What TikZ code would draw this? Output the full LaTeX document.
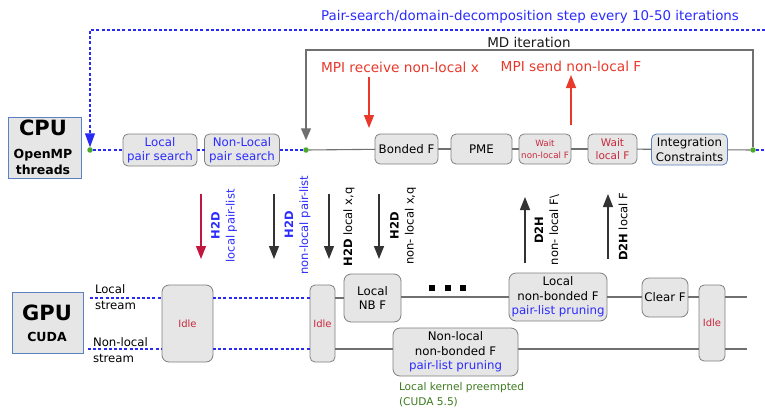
\documentclass[tikz,border=0pt]{standalone}
\usepackage{fontspec}
\setmainfont{DejaVu Sans}
\usetikzlibrary{arrows.meta}
\definecolor{boxfill}{HTML}{E6E6E6}
\definecolor{boxline}{HTML}{7F7F7F}
\definecolor{lnblue}{HTML}{2A2AF5}
\definecolor{txtblue}{HTML}{2B2BFF}
\definecolor{mpired}{HTML}{E8392B}
\definecolor{idlered}{HTML}{C8283C}
\definecolor{crimson}{HTML}{C0163F}
\definecolor{darkarr}{HTML}{333333}
\definecolor{mdgray}{HTML}{707070}
\definecolor{dotgreen}{HTML}{4BAA2A}
\definecolor{txtgreen}{HTML}{3C7A1E}
\definecolor{frameblue}{HTML}{5A82C0}
\begin{document}
\begin{tikzpicture}[x=1pt,y=-1pt,
  every node/.style={inner sep=0pt, outer sep=0pt},
  box/.style={draw=boxline, fill=boxfill, rounded corners=5pt, align=center, line width=0.8pt, font=\fontsize{11.8}{14.5}\selectfont},
  idlebox/.style={box, text=idlered, font=\fontsize{10}{12}\selectfont},
  headbox/.style={draw=frameblue, fill=boxfill, line width=0.9pt},
  gdot/.style={circle, fill=dotgreen, minimum size=5.5pt},
  sq/.style={fill=black, minimum size=5.5pt},
  bluedash/.style={draw=lnblue, line width=1.1pt, dash pattern=on 3pt off 2.2pt},
  gline/.style={draw=mdgray, line width=1.1pt},
  bighead/.style={-{Triangle[length=13pt,width=10pt]}},
  rlab/.style={rotate=90, align=center, font=\fontsize{11.5}{15}\selectfont},
]
\useasboundingbox (0,0) rectangle (765,410);

% ---------- top texts ----------
\node[text=txtblue, font=\fontsize{13.4}{15}\selectfont] (pstxt) at (530,17) {Pair-search/domain-decomposition step every 10-50 iterations};
\node[text=black!90, font=\fontsize{13.5}{15}\selectfont] (mdtxt) at (529,42) {MD iteration};
\node[text=mpired, font=\fontsize{13.7}{15}\selectfont] (mpir) at (400,67) {MPI receive non-local x};
\node[text=mpired, font=\fontsize{13.7}{15}\selectfont] (mpis) at (571,66) {MPI send non-local F};

% ---------- CPU ----------
\node[headbox, minimum width=73pt, minimum height=61pt] (cpu) at (44.5,147.5) {};
\node[font=\fontsize{21}{22}\selectfont\bfseries] (cputxt) at (43,128) {CPU};
\node[font=\fontsize{12.5}{15.5}\selectfont\bfseries, align=center] (omp) at (43,162) {OpenMP\\threads};

\node[gdot] (d1) at (90,150) {};
\node[gdot] (d2) at (306,150) {};
\node[gdot] (d3) at (753,150) {};
\coordinate (cpuend) at (765,150);
\coordinate (tr) at (765,30);
\coordinate (tl) at (90,30);
\coordinate (mdr) at (753,50);
\coordinate (mdl) at (306,50);

\node[box, text=txtblue, minimum width=74pt, minimum height=32pt] (lps) at (160,150) {Local\\pair search};
\node[box, text=txtblue, minimum width=75pt, minimum height=32pt] (nlps) at (242,150) {Non-Local\\pair search};
\node[box, minimum width=63pt, minimum height=30pt] (bf) at (406.5,149) {Bonded F};
\node[box, minimum width=61pt, minimum height=30pt] (pme) at (481.5,149) {PME};
\node[box, text=idlered, font=\fontsize{8.7}{12}\selectfont, minimum width=52pt, minimum height=30pt] (wnl) at (545,149) {Wait\\non-local F};
\node[box, text=idlered, font=\fontsize{10.5}{12.5}\selectfont, minimum width=49pt, minimum height=30pt] (wl) at (612.5,149) {Wait\\local F};
\node[box, draw=frameblue, minimum width=76pt, minimum height=31pt] (integ) at (689.5,149.5) {Integration\\Constraints};

% CPU connectors
\draw[bluedash] (d1) -- (lps);
\draw[bluedash] (lps) -- (nlps);
\draw[bluedash] (nlps) -- (d2);
\draw[gline] (d2) -- (bf);
\draw[gline] (bf) -- (pme);
\draw[gline] (pme) -- (wnl);
\draw[gline] (wnl) -- (wl);
\draw[gline] (wl) -- (integ);
\draw[gline] (integ) -- (d3);
\draw[bluedash] (d3) -- (cpuend);
\draw[bluedash, -{Triangle[length=14pt,width=10pt]}] (tr) -- (tl) -- (d1);
\draw[gline, -{Triangle[length=12pt,width=10pt]}, shorten >=7pt] (d3) -- (mdr) -- (mdl) -- (d2);

% MPI arrows
\coordinate (mr1) at (369,77);
\coordinate (mr2) at (369,128);
\coordinate (ms1) at (571,125);
\coordinate (ms2) at (571,75);
\draw[mpired, line width=1.4pt, bighead] (mr1) -- (mr2);
\draw[mpired, line width=1.4pt, bighead] (ms1) -- (ms2);

% ---------- transfer arrows ----------
\coordinate (a1s) at (201,194); \coordinate (a1e) at (201,259);
\coordinate (a2s) at (274,194); \coordinate (a2e) at (274,259);
\coordinate (a3s) at (329,194); \coordinate (a3e) at (329,259);
\coordinate (a4s) at (379,194); \coordinate (a4e) at (379,259);
\coordinate (u1s) at (525,263); \coordinate (u1e) at (525,197);
\coordinate (u2s) at (608,259); \coordinate (u2e) at (608,194);
\draw[crimson, line width=1.4pt, bighead] (a1s) -- (a1e);
\draw[darkarr, line width=1.4pt, bighead] (a2s) -- (a2e);
\draw[darkarr, line width=1.4pt, bighead] (a3s) -- (a3e);
\draw[darkarr, line width=1.4pt, bighead] (a4s) -- (a4e);
\draw[darkarr, line width=1.4pt, bighead] (u1s) -- (u1e);
\draw[darkarr, line width=1.4pt, bighead] (u2s) -- (u2e);

\node[rlab, text=txtblue] (l1) at (224,226) {\textbf{H2D}\\local pair-list};
\node[rlab, text=txtblue] (l2) at (297.5,225) {\textbf{H2D}\\non-local pair-list};
\node[rlab] (l3) at (349,227) {\textbf{H2D} local x,q};
\node[rlab] (l4) at (403,226) {\textbf{H2D}\\non- local x,q};
\node[rlab] (l5) at (547,230) {\textbf{D2H}\\non- local F\textbackslash};
\node[rlab] (l6) at (623,227) {\textbf{D2H} local F};

% ---------- GPU ----------
\node[headbox, minimum width=71pt, minimum height=61pt] (gpu) at (47.5,322.5) {};
\node[font=\fontsize{21}{22}\selectfont\bfseries] (gputxt) at (47,313) {GPU};
\node[font=\fontsize{12.5}{14}\selectfont\bfseries] (cuda) at (47,337) {CUDA};

\node[font=\fontsize{11.7}{16}\selectfont, align=left, anchor=west] (lstxt) at (95,297) {Local\\stream};
\node[font=\fontsize{11.7}{16}\selectfont, align=left, anchor=west] (nstxt) at (93,350.5) {Non-local\\stream};

\coordinate (ls0) at (90,298);
\coordinate (ns0) at (88,349);
\coordinate (le) at (747,297);
\coordinate (ne) at (747,349);

\node[idlebox, minimum width=51pt, minimum height=77pt, rounded corners=7pt] (idle1) at (187.5,323.5) {Idle};
\node[idlebox, minimum width=25pt, minimum height=77pt] (idle2) at (322.5,323.5) {Idle};
\node[idlebox, minimum width=26pt, minimum height=76pt] (idle3) at (712,323) {Idle};

\node[box, minimum width=57pt, minimum height=48pt, rounded corners=7pt] (lnb) at (372.5,298) {Local\\NB F};
\node[box, minimum width=98pt, minimum height=48pt, rounded corners=7pt] (lnbf) at (558,297) {Local\\non-bonded F\\\textcolor{txtblue}{pair-list pruning}};
\node[box, minimum width=46pt, minimum height=39pt, rounded corners=7pt] (clr) at (665,297.5) {Clear F};
\node[box, minimum width=125pt, minimum height=48pt, rounded corners=7pt] (nlnb) at (455.5,352) {Non-local\\non-bonded F\\\textcolor{txtblue}{pair-list pruning}};

\node[sq] (s1) at (432,288) {};
\node[sq] (s2) at (448,288) {};
\node[sq] (s3) at (463,288) {};

% local stream
\draw[bluedash] (ls0) -- (ls0 -| idle1.west);
\draw[bluedash] (ls0 -| idle1.east) -- (ls0 -| idle2.west);
\draw[gline] (ls0 -| idle2.east) -- (lnb.west |- ls0);
\draw[gline] (lnb.east |- le) -- (lnbf.west |- le);
\draw[gline] (lnbf.east |- le) -- (clr.west |- le);
\draw[gline] (clr.east |- le) -- (idle3.west |- le);
\draw[gline] (idle3.east |- le) -- (le);
% non-local stream
\draw[bluedash] (ns0) -- (ns0 -| idle1.west);
\draw[bluedash] (ns0 -| idle1.east) -- (ns0 -| idle2.west);
\draw[gline] (ns0 -| idle2.east) -- (nlnb.west |- ns0);
\draw[gline] (nlnb.east |- ns0) -- (idle3.west |- ns0);
\draw[gline] (idle3.east |- ne) -- (ne);

\node[text=txtgreen, font=\fontsize{10.6}{15}\selectfont, align=left, anchor=north west] (pre) at (399,382) {Local kernel preempted\\(CUDA 5.5)};
\end{tikzpicture}
\end{document}
